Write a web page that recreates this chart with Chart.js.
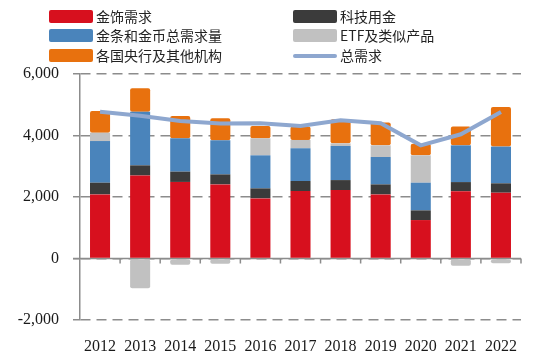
<!DOCTYPE html>
<html>
<head>
<meta charset="utf-8">
<script src="https://cdn.jsdelivr.net/npm/chart.js@4"></script>
<style>
  html, body { margin: 0; padding: 0; background: #fff; }
  #wrap { position: relative; width: 550px; height: 362px; }
  #legend { position: absolute; left: 0; top: 0; width: 550px; height: 66px;
    font-family: "Noto Sans CJK SC", sans-serif; font-size: 14px; color: #222; }
  .item { position: absolute; height: 20px; line-height: 20px; white-space: nowrap; }
  .sw { position: absolute; left: 0; width: 44px; height: 13px; top: 4px; border-radius: 2px; }
  .ln { position: absolute; left: 0; width: 44px; height: 4px; top: 9px; border-radius: 2px; }
  .lbl { position: absolute; left: 47px; top: 0; }
</style>
</head>
<body>
<div id="wrap">
  <canvas id="chart" width="550" height="362"></canvas>
  <div id="legend"></div>
</div>
<script>
// 年份
const years = ['2012', '2013', '2014', '2015', '2016', '2017', '2018', '2019', '2020', '2021', '2022'];

// 各类需求（吨）
const jewelry = [2085, 2700, 2490, 2410, 1955, 2195, 2225, 2085, 1250, 2190, 2140];
const tech = [380, 330, 335, 325, 325, 325, 325, 325, 315, 295, 305];
const barCoin = [1355, 1740, 1085, 1110, 1075, 1065, 1110, 890, 900, 1195, 1195];
const etf = [270, -970, -200, -170, 555, 270, 85, 380, 890, -235, -155];
const centralBank = [710, 770, 725, 715, 400, 435, 785, 740, 380, 610, 1290];
const totalDemand = [4770, 4640, 4470, 4390, 4400, 4310, 4495, 4400, 3680, 4040, 4765];

const yTicks = [-2000, 0, 2000, 4000, 6000];

const numFont = "'Liberation Serif', serif";
const gridColor = '#8c8c8c';

Chart.defaults.font.family = numFont;
Chart.defaults.font.size = 16;
Chart.defaults.color = '#1a1a1a';

const barSeries = [
    { label: '金饰需求', data: jewelry, color: '#d7101e' },
    { label: '科技用金', data: tech, color: '#3b3b3b' },
    { label: '金条和金币总需求量', data: barCoin, color: '#4a84bb' },
    { label: 'ETF及类似产品', data: etf, color: '#c1c1c1' },
    { label: '各国央行及其他机构', data: centralBank, color: '#e8710e' },
];
const lineColor = '#8ea7cf';

// legend (two columns)
const legendOrder = [
    { label: '金饰需求', color: '#d7101e', x: 49, y: 6 },
    { label: '科技用金', color: '#3b3b3b', x: 293, y: 6 },
    { label: '金条和金币总需求量', color: '#4a84bb', x: 49, y: 25 },
    { label: 'ETF及类似产品', color: '#c1c1c1', x: 293, y: 25 },
    { label: '各国央行及其他机构', color: '#e8710e', x: 49, y: 45 },
    { label: '总需求', color: lineColor, x: 293, y: 45, line: true },
];
const legendEl = document.getElementById('legend');
legendOrder.forEach(it => {
    const d = document.createElement('div');
    d.className = 'item';
    d.style.left = it.x + 'px';
    d.style.top = it.y + 'px';
    d.innerHTML = `<span class="${it.line ? 'ln' : 'sw'}" style="background:${it.color}"></span><span class="lbl">${it.label}</span>`;
    legendEl.appendChild(d);
});

// zero line with category boundary ticks
const zeroLine = {
    id: 'zeroLine',
    beforeDatasetsDraw(chart) {
        const { ctx, chartArea, scales } = chart;
        const y0 = scales.y.getPixelForValue(0);
        const x = scales.x;
        const half = (x.getPixelForValue(1) - x.getPixelForValue(0)) / 2;
        ctx.save();
        ctx.strokeStyle = gridColor;
        ctx.lineWidth = 1.5;
        ctx.beginPath();
        ctx.moveTo(chartArea.left - 7, y0);
        ctx.lineTo(chartArea.right, y0);
        for (let i = 0; i < years.length; i++) {
            const bx = x.getPixelForValue(i) + half;
            ctx.moveTo(bx, y0);
            ctx.lineTo(bx, y0 + 5);
        }
        ctx.stroke();
        ctx.restore();
    }
};

new Chart(document.getElementById('chart'), {
    type: 'bar',
    data: {
        labels: years,
        datasets: [
            {
                type: 'line',
                label: '总需求',
                data: totalDemand,
                borderColor: lineColor,
                backgroundColor: lineColor,
                borderWidth: 4,
                pointRadius: 0,
                tension: 0,
                stack: 'total',
                order: 0,
            },
            ...barSeries.map(s => ({
                label: s.label,
                data: s.data,
                backgroundColor: s.color,
                borderRadius: 2,
                borderSkipped: false,
                barPercentage: 0.5,
                categoryPercentage: 1,
                stack: 'demand',
                order: 1,
            })),
        ]
    },
    options: {
        responsive: false,
        animation: false,
        layout: { padding: { top: 74, right: 29, left: 0, bottom: 0 } },
        plugins: {
            legend: { display: false },
            tooltip: { enabled: false },
        },
        scales: {
            x: {
                stacked: true,
                grid: { display: false },
                border: { display: false },
                ticks: { font: { family: numFont, size: 16 }, padding: 9, maxRotation: 0 },
                afterFit: s => { s.height = 42; },
            },
            y: {
                stacked: true,
                min: -2000,
                max: 6000,
                afterBuildTicks: s => { s.ticks = yTicks.map(v => ({ value: v })); },
                grid: { color: gridColor, lineWidth: 1.5, tickLength: 7, drawTicks: true },
                border: { display: true, color: gridColor, width: 1.5, dash: [10, 6] },
                ticks: {
                    font: { family: numFont, size: 16 },
                    padding: 14,
                    callback: v => v.toLocaleString('en-US'),
                },
                afterFit: s => { s.width = 80; },
            }
        }
    },
    plugins: [zeroLine]
});
</script>
</body>
</html>
